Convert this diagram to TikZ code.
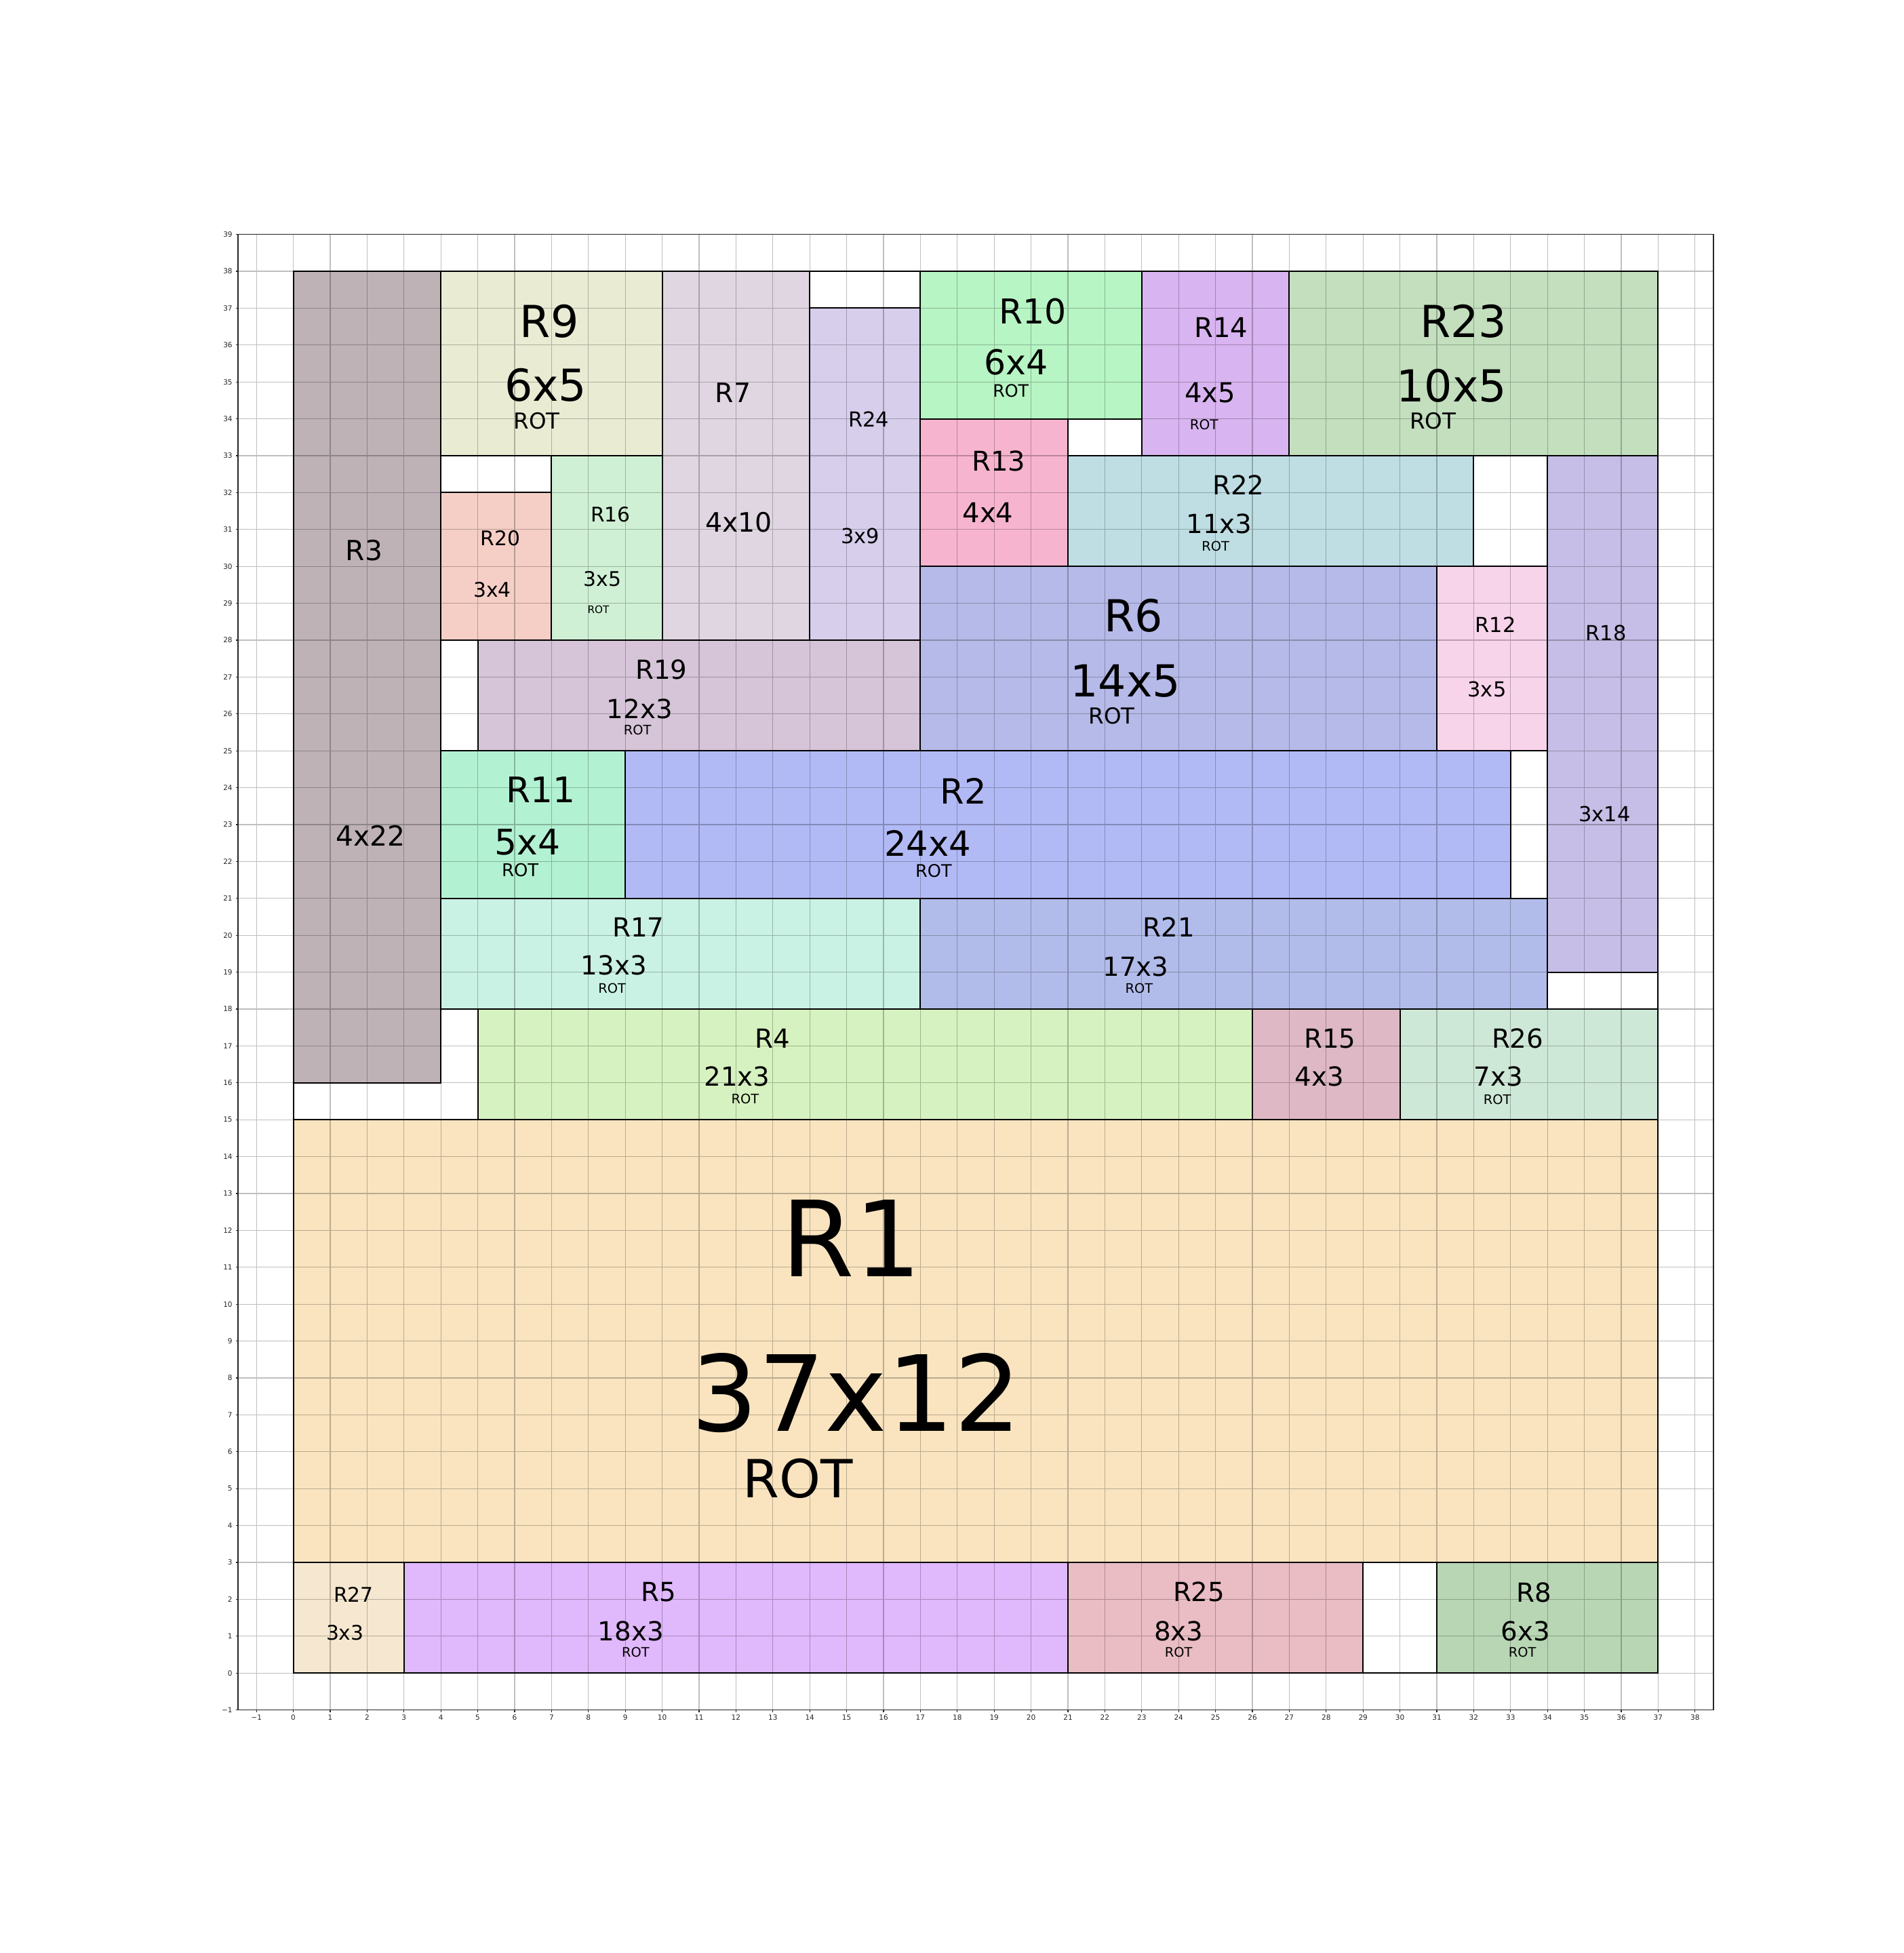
\documentclass[tikz,border=0pt]{standalone}
\usepackage{fontspec}
\setmainfont{DejaVu Sans}
\usepackage{xcolor}
\usepackage{tikz}

\definecolor{cR1}{RGB}{249,228,191}
\definecolor{cR2}{RGB}{178,186,246}
\definecolor{cR3}{RGB}{190,178,183}
\definecolor{cR4}{RGB}{214,242,192}
\definecolor{cR5}{RGB}{224,184,252}
\definecolor{cR6}{RGB}{182,186,232}
\definecolor{cR7}{RGB}{224,214,226}
\definecolor{cR8}{RGB}{184,214,180}
\definecolor{cR9}{RGB}{233,236,211}
\definecolor{cR10}{RGB}{183,245,196}
\definecolor{cR11}{RGB}{178,242,210}
\definecolor{cR12}{RGB}{248,212,234}
\definecolor{cR13}{RGB}{247,180,206}
\definecolor{cR14}{RGB}{216,180,240}
\definecolor{cR15}{RGB}{222,184,196}
\definecolor{cR16}{RGB}{208,240,213}
\definecolor{cR17}{RGB}{202,242,228}
\definecolor{cR18}{RGB}{198,190,230}
\definecolor{cR19}{RGB}{214,196,216}
\definecolor{cR20}{RGB}{245,207,198}
\definecolor{cR21}{RGB}{178,188,234}
\definecolor{cR22}{RGB}{190,222,228}
\definecolor{cR23}{RGB}{195,223,190}
\definecolor{cR24}{RGB}{214,206,235}
\definecolor{cR25}{RGB}{234,188,196}
\definecolor{cR26}{RGB}{206,232,216}
\definecolor{cR27}{RGB}{246,232,208}

% label: name, x, y (cap centre), size in pt, text
\newcommand{\rtext}[5]{\node[lbl, font=\fontsize{#4pt}{#4pt}\selectfont] (#1) at (#2,{#3-0.3645*#4/39.17}) {#5};}

\begin{document}
\begin{tikzpicture}[x=1.3818cm, y=1.3818cm,
    box/.style={draw=black, line width=1.4pt},
    gridline/.style={black, opacity=0.25, line width=0.8pt},
    lbl/.style={anchor=base, inner sep=0pt, text=black},
    ticklbl/.style={inner sep=0pt, text=black!85, font=\fontsize{7.6pt}{7.6pt}\selectfont}]

    \fill[white] (-7.952,-7.588) rectangle (43.665,45.353);
    \useasboundingbox (-7.952,-7.588) rectangle (43.665,45.353);

    % packed rectangles
    \foreach \n/\x/\y/\w/\h in {R1/0/3/37/12, R2/9/21/24/4, R3/0/16/4/22, R4/5/15/21/3,
        R5/3/0/18/3, R6/17/25/14/5, R7/10/28/4/10, R8/31/0/6/3, R9/4/33/6/5,
        R10/17/34/6/4, R11/4/21/5/4, R12/31/25/3/5, R13/17/30/4/4, R14/23/33/4/5,
        R15/26/15/4/3, R16/7/28/3/5, R17/4/18/13/3, R18/34/19/3/14, R19/5/25/12/3,
        R20/4/28/3/4, R21/17/18/17/3, R22/21/30/11/3, R23/27/33/10/5, R24/14/28/3/9,
        R25/21/0/8/3, R26/30/15/7/3, R27/0/0/3/3}
        \filldraw[box, fill=c\n] (\x,\y) rectangle ++(\w,\h);

    \draw[gridline, step=1] (-1.5,-1) grid (38.5,39);
    \draw[box] (0,0) rectangle (37,38);
    \draw[line width=0.8pt, black!85] (-1.5,-1) rectangle (38.5,39);

    % axes
    \foreach \i in {-1,...,38} {
        \draw[line width=0.8pt, black!85] (\i,-1) -- ++(0,-2.4pt);
        \node[ticklbl, anchor=north] (xt\i) at ([yshift=-5.1pt]\i,-1) {\ifnum\i<0 −1\else\i\fi};
    }
    \foreach \i in {-1,...,39} {
        \draw[line width=0.8pt, black!85] (-1.5,\i) -- ++(-2.4pt,0);
        \node[ticklbl, anchor=east] (yt\i) at ([xshift=-5.8pt]-1.5,\i) {\ifnum\i<0 −1\else\i\fi};
    }

    \rtext{r1n}{15.13}{11.79}{112}{R1}
    \rtext{r1d}{15.26}{7.60}{112}{37x12}
    \rtext{r1r}{13.68}{5.27}{56}{ROT}
    \rtext{r2n}{18.17}{23.91}{37}{R2}
    \rtext{r2d}{17.20}{22.49}{37}{24x4}
    \rtext{r2r}{17.36}{21.74}{18.5}{ROT}
    \rtext{r3n}{1.92}{30.43}{29.5}{R3}
    \rtext{r3d}{2.10}{22.70}{29.5}{4x22}
    \rtext{r4n}{12.99}{17.21}{28}{R4}
    \rtext{r4d}{12.03}{16.18}{28}{21x3}
    \rtext{r4r}{12.25}{15.56}{14}{ROT}
    \rtext{r5n}{9.91}{2.21}{28}{R5}
    \rtext{r5d}{9.15}{1.14}{28}{18x3}
    \rtext{r5r}{9.28}{0.56}{14}{ROT}
    \rtext{r6n}{22.77}{28.67}{47}{R6}
    \rtext{r6d}{22.56}{26.90}{47}{14x5}
    \rtext{r6r}{22.19}{25.94}{23.5}{ROT}
    \rtext{r7n}{11.92}{34.70}{28.5}{R7}
    \rtext{r7d}{12.08}{31.20}{28.5}{4x10}
    \rtext{r8n}{33.63}{2.18}{28}{R8}
    \rtext{r8d}{33.40}{1.13}{28}{6x3}
    \rtext{r8r}{33.32}{0.56}{14}{ROT}
    \rtext{r9n}{6.94}{36.65}{47}{R9}
    \rtext{r9d}{6.84}{34.92}{47}{6x5}
    \rtext{r9r}{6.60}{33.95}{23.5}{ROT}
    \rtext{r10n}{20.05}{36.92}{36.5}{R10}
    \rtext{r10d}{19.60}{35.53}{36.5}{6x4}
    \rtext{r10r}{19.45}{34.76}{18.25}{ROT}
    \rtext{r11n}{6.71}{23.94}{37.5}{R11}
    \rtext{r11d}{6.35}{22.53}{37.5}{5x4}
    \rtext{r11r}{6.15}{21.76}{18.75}{ROT}
    \rtext{r12n}{32.59}{28.42}{22}{R12}
    \rtext{r12d}{32.36}{26.67}{22}{3x5}
    \rtext{r13n}{19.12}{32.85}{29}{R13}
    \rtext{r13d}{18.83}{31.45}{29}{4x4}
    \rtext{r14n}{25.15}{36.48}{29}{R14}
    \rtext{r14d}{24.85}{34.72}{29}{4x5}
    \rtext{r14r}{24.69}{33.85}{14.5}{ROT}
    \rtext{r15n}{28.10}{17.20}{28}{R15}
    \rtext{r15d}{27.82}{16.17}{28}{4x3}
    \rtext{r16n}{8.60}{31.41}{21.5}{R16}
    \rtext{r16d}{8.38}{29.67}{21.5}{3x5}
    \rtext{r16r}{8.27}{28.82}{11}{ROT}
    \rtext{r17n}{9.35}{20.21}{28}{R17}
    \rtext{r17d}{8.69}{19.18}{28}{13x3}
    \rtext{r17r}{8.64}{18.57}{14}{ROT}
    \rtext{r18n}{35.59}{28.19}{22}{R18}
    \rtext{r18d}{35.55}{23.29}{22}{3x14}
    \rtext{r19n}{9.98}{27.21}{28}{R19}
    \rtext{r19d}{9.39}{26.14}{28}{12x3}
    \rtext{r19r}{9.33}{25.56}{14}{ROT}
    \rtext{r20n}{5.61}{30.77}{21.5}{R20}
    \rtext{r20d}{5.39}{29.37}{21.5}{3x4}
    \rtext{r21n}{23.74}{20.21}{28}{R21}
    \rtext{r21d}{22.84}{19.16}{28}{17x3}
    \rtext{r21r}{22.93}{18.56}{14}{ROT}
    \rtext{r22n}{25.62}{32.20}{28}{R22}
    \rtext{r22d}{25.10}{31.15}{28}{11x3}
    \rtext{r22r}{25.00}{30.55}{14}{ROT}
    \rtext{r23n}{31.72}{36.65}{47}{R23}
    \rtext{r23d}{31.40}{34.90}{47}{10x5}
    \rtext{r23r}{30.89}{33.95}{23.5}{ROT}
    \rtext{r24n}{15.60}{33.98}{22}{R24}
    \rtext{r24d}{15.37}{30.82}{22}{3x9}
    \rtext{r25n}{24.55}{2.21}{28}{R25}
    \rtext{r25d}{24.00}{1.13}{28}{8x3}
    \rtext{r25r}{24.00}{0.56}{14}{ROT}
    \rtext{r26n}{33.19}{17.20}{28}{R26}
    \rtext{r26d}{32.67}{16.17}{28}{7x3}
    \rtext{r26r}{32.64}{15.55}{14}{ROT}
    \rtext{r27n}{1.63}{2.13}{21.5}{R27}
    \rtext{r27d}{1.40}{1.10}{21.5}{3x3}
\end{tikzpicture}
\end{document}
